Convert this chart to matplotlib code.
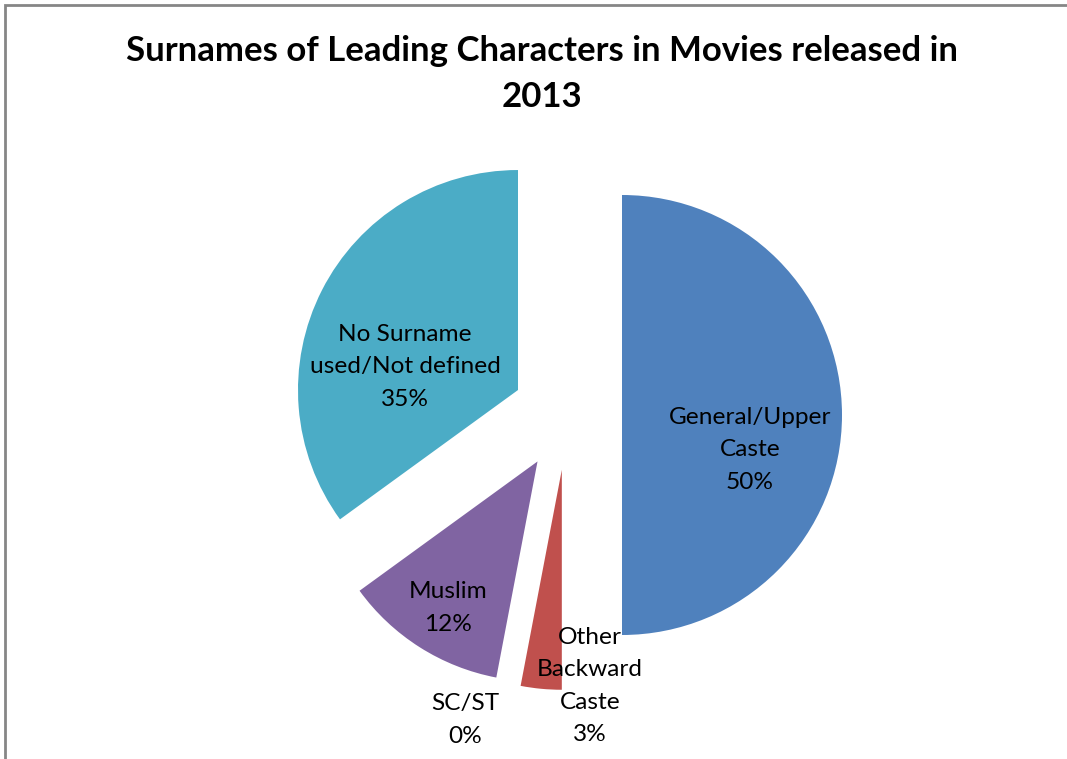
import matplotlib.pyplot as plt
from matplotlib.patches import Rectangle

plt.rcParams['font.family'] = ['Lato', 'DejaVu Sans']

# slices, clockwise from 12 o'clock
categories = ["General/Upper\nCaste", "Other\nBackward\nCaste", "SC/ST", "Muslim",
              "No Surname\nused/Not defined"]
shares = [50, 3, 0, 12, 35]
colors = ["#4F81BD", "#C0504D", "#9BBB59", "#8064A2", "#4BACC6"]
# where each label sits (figure pixels, y from top)
label_pos = [(750, 450), (590, 686), (465, 720), (448, 608), (405, 367)]

W, H = 1067, 759
fig = plt.figure(figsize=(W / 100, H / 100), dpi=100)
ax = fig.add_axes([0, 0, 1, 1])

ax.pie(shares, colors=colors, startangle=90, counterclock=False,
       center=(567, H - 415), radius=220, explode=[55] * len(shares),
       wedgeprops=dict(linewidth=0), frame=True)
ax.set_xlim(0, W)
ax.set_ylim(0, H)
ax.set_aspect("equal")
ax.axis("off")

for name, val, (px, py) in zip(categories, shares, label_pos):
    ax.text(px, H - py, f"{name}\n{val}%", ha="center", va="center",
            fontsize=17.6, linespacing=1.66, color="black")

ax.text(W / 2 + 8, H - 74, "Surnames of Leading Characters in Movies released in\n2013",
        ha="center", va="center", fontsize=25, fontweight="bold", linespacing=1.55)

# chart frame, cut off at right and bottom
ax.add_patch(Rectangle((5, -20), W + 50, H - 5 + 20, fill=False,
                       edgecolor="#868686", linewidth=2))

fig.savefig("out.png", dpi=100)
